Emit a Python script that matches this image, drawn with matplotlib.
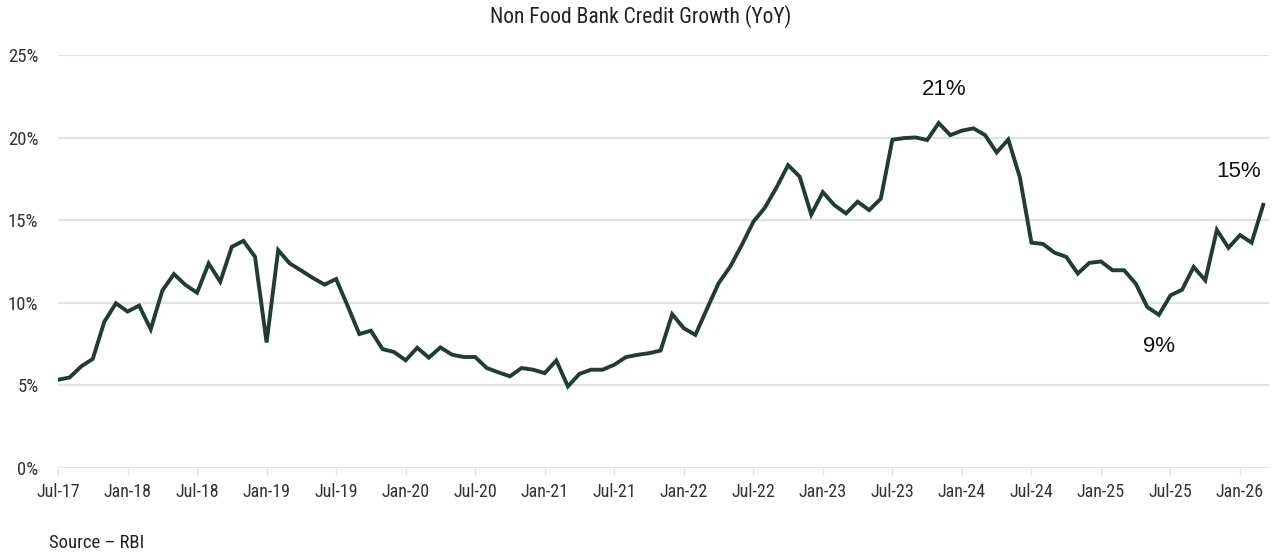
import numpy as np
import pandas as pd
import matplotlib
matplotlib.use("Agg")
import matplotlib.pyplot as plt
from matplotlib import font_manager

# monthly YoY non-food bank credit growth (%), Jul-17 .. Mar-26
growth = [
    5.34, 5.48, 6.15, 6.6, 8.86, 9.97, 9.47, 9.83, 8.4, 10.73, 11.74, 11.08,
    10.61, 12.38, 11.28, 13.39, 13.75, 12.79, 7.6, 13.19, 12.38, 11.95, 11.5, 11.1,
    11.44, 9.8, 8.11, 8.31, 7.2, 7.02, 6.52, 7.28, 6.68, 7.3, 6.86, 6.72,
    6.72, 6.05, 5.79, 5.55, 6.05, 5.95, 5.74, 6.51, 4.94, 5.7, 5.95, 5.95,
    6.25, 6.71, 6.85, 6.95, 7.11, 9.31, 8.46, 8.06, 9.63, 11.18, 12.18, 13.49,
    14.9, 15.76, 16.98, 18.33, 17.64, 15.34, 16.7, 15.91, 15.41, 16.12, 15.61, 16.3,
    19.87, 19.97, 20.01, 19.85, 20.88, 20.15, 20.42, 20.56, 20.15, 19.1, 19.88, 17.6,
    13.64, 13.56, 13.03, 12.78, 11.77, 12.42, 12.5, 11.97, 11.97, 11.16, 9.74, 9.27,
    10.45, 10.79, 12.17, 11.36, 14.41, 13.33, 14.1, 13.64, 15.93,
]
tick_labels = ["Jul-17", "Jan-18", "Jul-18", "Jan-19", "Jul-19", "Jan-20", "Jul-20",
               "Jan-21", "Jul-21", "Jan-22", "Jul-22", "Jan-23", "Jul-23", "Jan-24",
               "Jul-24", "Jan-25", "Jul-25", "Jan-26"]
y_ticks = [0, 5, 10, 15, 20, 25]
callouts = [("21%", 76, (4, 24)), ("9%", 95, (0, -23)), ("15%", 104, (-18, 24))]

months = pd.date_range("2017-07-01", periods=len(growth), freq="MS")
x = np.arange(len(months))

# pick a narrow face if one is installed, else squeeze DejaVu
fonts = font_manager.fontManager.ttflist
names = {f.name for f in fonts}
narrow, stretch = "DejaVu Sans", "condensed"
for cand in ["Liberation Sans Narrow", "Roboto Condensed", "Open Sans Condensed"]:
    if cand in names:
        narrow, stretch = cand, "normal"
        break
plain = "Liberation Sans" if "Liberation Sans" in names else "DejaVu Sans"
nfont = dict(family=narrow, stretch=stretch)

fig = plt.figure(figsize=(12.84, 5.56), dpi=100)
ax = fig.add_axes([58 / 1284, 1 - 468 / 556, (1269 - 58) / 1284, (468 - 55) / 556])

grid_col = "#dde5e4"
for v in y_ticks:
    ax.axhline(v, color=grid_col, lw=1.6, zorder=1)

ax.plot(x, growth, color="#1f3d33", lw=2.8, solid_joinstyle="miter", zorder=3)

ax.set_xlim(0, 104.5)
ax.set_ylim(0, 25)
for s in ax.spines.values():
    s.set_visible(False)

ax.set_yticks(y_ticks)
ax.set_yticklabels([f"{v}%" for v in y_ticks], fontsize=13.5, color="#333333", **nfont)
ax.tick_params(axis="y", length=0, pad=14)

ax.set_xticks(np.arange(0, len(months), 6))
ax.set_xticklabels(tick_labels, fontsize=13, color="#333333", **nfont)
ax.tick_params(axis="x", length=5, width=1, color=grid_col, pad=6)

for label, idx, off in callouts:
    ax.annotate(label, xy=(x[idx], growth[idx]), xytext=off, textcoords="offset points",
                ha="center", va="center", fontsize=16, family=plain, color="#111111")

fig.text(641 / 1284, 1 - 17 / 556, "Non Food Bank Credit Growth (YoY)", ha="center", va="center",
         fontsize=15.5, color="#222222", **nfont)
fig.text(49 / 1284, 1 - 543 / 556, "Source \u2013 RBI", ha="left", va="center",
         fontsize=13.5, color="#222222", **nfont)

fig.savefig("out.png", dpi=100)
